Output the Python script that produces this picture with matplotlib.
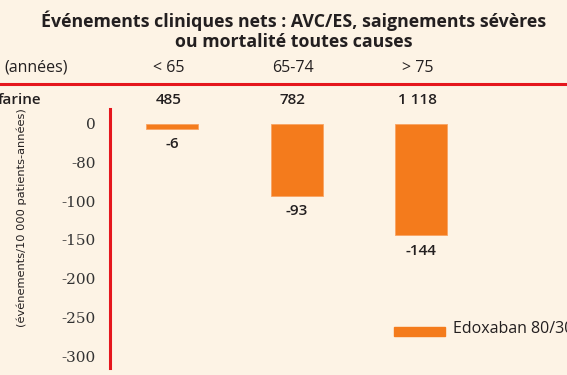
import matplotlib
matplotlib.use("Agg")
import matplotlib.pyplot as plt
import matplotlib.transforms as mtransforms

# ---- data ----
title_lines = ["Événements cliniques nets : AVC/ES, saignements sévères",
               "ou mortalité toutes causes"]
age_groups = ["< 65", "65-74", "> 75"]
warfarin_events = ["485", "782", "1 118"]
reduction = [-6, -93, -144]
value_labels = ["-6", "-93", "-144"]
ytick_values = [0, -50, -100, -150, -200, -250, -300]
ytick_labels = ["0", "-80", "-100", "-150", "-200", "-250", "-300"]
series_name = "Edoxaban 80/30"
row_header_age = "(années)"
row_header_warf = "farine"
ylabel_1 = "Réduction absolue du risque"
ylabel_2 = "(événements/10 000 patients-années)"

BG = "#fdf3e5"
ORANGE = "#f47b1c"
RED = "#e5161d"
TXT = "#231f20"
FONT = ["Open Sans", "DejaVu Sans"]
plt.rcParams["font.family"] = FONT

W, H = 567, 375
fig = plt.figure(figsize=(W / 100, H / 100), dpi=100, facecolor=BG)

def fx(px):
    return px / W

def fy(py):
    return 1 - py / H

# axes: left spine at x=110px, y from 109 to 368 px
ax_left, ax_right = 110, 567
ax_top, ax_bot = 109, 368
ax = fig.add_axes([fx(ax_left), fy(ax_bot), fx(ax_right - ax_left), (ax_bot - ax_top) / H])
ax.set_facecolor(BG)

# y scale: 0 at 124px, -300 at 356px
ppu = (356 - 124) / 300.0
ymax = (124 - ax_top) / ppu
ymin = -(ax_bot - 124) / ppu
ax.set_ylim(ymin, ymax)

# x scale: bar centres ~ 172, 297, 421 px
spacing = 124.5
c0 = 172
xmin = -(c0 - ax_left) / spacing
xmax = xmin + (ax_right - ax_left) / spacing
ax.set_xlim(xmin, xmax)

xs = list(range(len(age_groups)))
ax.bar(xs, reduction, width=52 / spacing, color=ORANGE, edgecolor="#f9a463", linewidth=0.6, zorder=3)

for x, v, lab in zip(xs, reduction, value_labels):
    ax.annotate(lab, (x, v), xytext=(0, -11), textcoords="offset points",
                ha="center", va="center", fontsize=11, color=TXT, fontweight="semibold")

ax.set_yticks(ytick_values)
ax.set_yticklabels(ytick_labels, fontsize=11, color="#333333", family=["DejaVu Serif"])
ax.tick_params(axis="y", length=0, pad=10)
ax.set_xticks([])
for s in ["top", "right", "bottom"]:
    ax.spines[s].set_visible(False)
ax.spines["left"].set_color(RED)
ax.spines["left"].set_linewidth(2.2)

# legend
fig.patches.append(plt.Rectangle((fx(394), fy(336)), fx(51), 9 / H, color=ORANGE,
                                 transform=fig.transFigure, figure=fig))
fig.text(fx(453), fy(329), series_name, fontsize=11.5, color=TXT, ha="left", va="center")

# title
fig.text(fx(294), fy(21), title_lines[0], fontsize=12.8, fontweight="bold", color=TXT, ha="center", va="center")
fig.text(fx(294), fy(42), title_lines[1], fontsize=12.8, fontweight="bold", color=TXT, ha="center", va="center")

# header rows (x in data coords, y in figure coords)
trans = mtransforms.blended_transform_factory(ax.transData, fig.transFigure)
fig.text(fx(4), fy(68), row_header_age, fontsize=11.5, color=TXT, ha="left", va="center", fontweight="medium")
fig.text(fx(-2), fy(100), row_header_warf, fontsize=11, color=TXT, ha="left", va="center", fontweight="semibold")
for x, g, w in zip(xs, age_groups, warfarin_events):
    fig.text(x - 0.03, fy(68), g, transform=trans, fontsize=11.5, color=TXT, ha="center", va="center", fontweight="medium")
    fig.text(x - 0.03, fy(100), w, transform=trans, fontsize=11, color=TXT, ha="center", va="center", fontweight="semibold")

# red horizontal line
fig.add_artist(plt.Line2D([0, 1], [fy(83.5), fy(83.5)], color=RED, linewidth=2.2, transform=fig.transFigure))

# y labels
fig.text(fx(-4), fy(200), ylabel_1, rotation=90, fontsize=8.2, color=TXT, ha="center", va="center", family=["DejaVu Sans"])
fig.text(fx(22), fy(218), ylabel_2, rotation=90, fontsize=8.2, color=TXT, ha="center", va="center", family=["DejaVu Sans"])

fig.savefig("out.png", dpi=100, facecolor=BG)
